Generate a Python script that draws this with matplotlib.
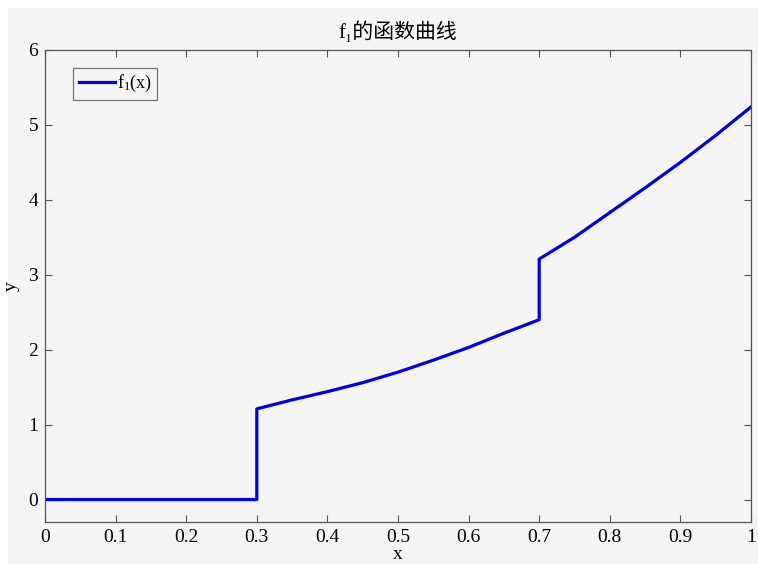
import matplotlib
matplotlib.use("Agg")
import matplotlib.pyplot as plt
from matplotlib.patches import Rectangle
import numpy as np

plt.rcParams['font.family'] = ['Liberation Serif', 'Noto Sans CJK SC', 'DejaVu Serif']
plt.rcParams['mathtext.fontset'] = 'custom'
plt.rcParams['mathtext.rm'] = 'Liberation Serif'
plt.rcParams['mathtext.it'] = 'Liberation Serif'

# data
x_zero = [0.0, 0.3]
y_zero = [0.0, 0.0]
x_seg1 = [0.3, 0.35, 0.4, 0.45, 0.5, 0.55, 0.6, 0.65, 0.7]
y_seg1 = [1.21, 1.33, 1.44, 1.56, 1.70, 1.86, 2.03, 2.22, 2.40]
x_seg2 = [0.7, 0.75, 0.8, 0.85, 0.9, 0.95, 1.0]
y_seg2 = [3.21, 3.50, 3.83, 4.16, 4.50, 4.86, 5.24]
x_ticks = [0, 0.1, 0.2, 0.3, 0.4, 0.5, 0.6, 0.7, 0.8, 0.9, 1]
x_ticklabels = ['0', '0.1', '0.2', '0.3', '0.4', '0.5', '0.6', '0.7', '0.8', '0.9', '1']
y_ticks = [0, 1, 2, 3, 4, 5, 6]
title_text = 'f\u2081的函数曲线'

xs = x_zero + x_seg1 + x_seg2
ys = y_zero + y_seg1 + y_seg2

W, H = 758, 564
fig = plt.figure(figsize=(W / 100, H / 100), dpi=100, facecolor='white')
bg = '#f5f5f5'
fig.patches.append(Rectangle((8 / W, 0), 1 - 8 / W, 1 - 8 / H, transform=fig.transFigure,
                             facecolor=bg, edgecolor='none', zorder=-10))

ax = fig.add_axes([45 / W, 1 - 522 / H, (751 - 45) / W, (522 - 50) / H])
ax.set_facecolor(bg)
ax.plot(xs, ys, color='#0000e6', linewidth=2.3, label=r'$\mathrm{f}_{1}$(x)')

ax.set_xlim(0, 1)
ax.set_ylim(-0.3, 6)
ax.set_xticks(x_ticks)
ax.set_xticklabels(x_ticklabels)
ax.set_yticks(y_ticks)
ax.tick_params(direction='in', length=5, width=0.8, color='#555555', labelsize=14,
               top=True, right=True, pad=5)
for s in ax.spines.values():
    s.set_color('#555555')
    s.set_linewidth(0.9)

ax.set_title(title_text, fontsize=15, pad=9)
ax.set_xlabel('x', fontsize=14, labelpad=0)
ax.set_ylabel('y', fontsize=14, labelpad=6)

leg = ax.legend(loc='upper left', fontsize=13, frameon=True, fancybox=False,
                handlelength=2.0, handletextpad=0.1, borderpad=0.3, borderaxespad=0,
                bbox_to_anchor=(0.040, 0.962))
leg.get_frame().set_edgecolor('#555555')
leg.get_frame().set_facecolor(bg)
leg.get_frame().set_linewidth(0.9)

fig.savefig('out.png', dpi=100, facecolor=fig.get_facecolor())
